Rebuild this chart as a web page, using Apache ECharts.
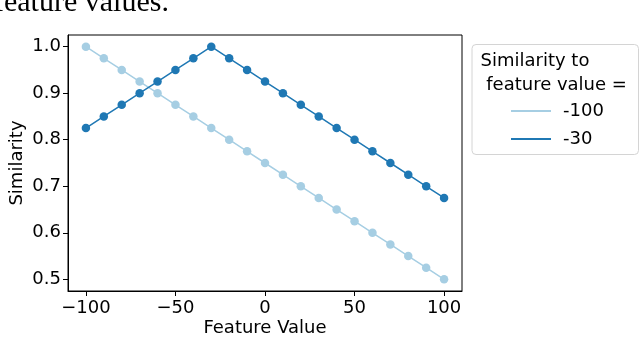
<!DOCTYPE html>
<html>
<head>
<meta charset="utf-8">
<script src="https://cdn.jsdelivr.net/npm/echarts@6/dist/echarts.min.js"></script>
<style>html,body{margin:0;padding:0;background:#fff}#c{width:640px;height:337px}</style>
</head>
<body>
<div id="c"></div>
<script>
const featureValues = [-100,-90,-80,-70,-60,-50,-40,-30,-20,-10,0,10,20,30,40,50,60,70,80,90,100];
const simTo100 = [1.0,0.975,0.95,0.925,0.9,0.875,0.85,0.825,0.8,0.775,0.75,0.725,0.7,0.675,0.65,0.625,0.6,0.575,0.55,0.525,0.5];
const simTo30 = [0.825,0.85,0.875,0.9,0.925,0.95,0.975,1.0,0.975,0.95,0.925,0.9,0.875,0.85,0.825,0.8,0.775,0.75,0.725,0.7,0.675];
const seriesNames = ['-100','-30'];
const xTicks = [-100,-50,0,50,100];
const yTicks = [0.5,0.6,0.7,0.8,0.9,1.0];
const legendTitle = ['Similarity to', ' feature value ='];
const headerText = 'feature values.';

const FONT = 'DejaVu Sans';
const FS = 18;
const pairs = (ys) => featureValues.map((x,i)=>[x, ys[i]]);
const chart = echarts.init(document.getElementById('c'), null, {renderer:'canvas'});
chart.setOption({
  animation:false,
  backgroundColor:'#fff',
  textStyle:{fontFamily:FONT},
  grid:{left:68,right:178,top:35,bottom:46,containLabel:false,outerBoundsMode:'none',
    show:true,borderColor:'#000',borderWidth:1,backgroundColor:'transparent'},
  xAxis:{type:'value',min:-110,max:110,
    name:'Feature Value',nameLocation:'middle',nameGap:28,nameMoveOverlap:false,
    nameTextStyle:{fontSize:FS,color:'#000',fontFamily:FONT},
    axisLine:{show:true,onZero:false,lineStyle:{color:'#000',width:1}},
    axisTick:{show:true,length:5,lineStyle:{color:'#000'},customValues:xTicks},
    axisLabel:{fontSize:FS,color:'#000',fontFamily:FONT,margin:8,customValues:xTicks,formatter:v=>String(v).replace('-','\u2212')},
    splitLine:{show:false}},
  yAxis:{type:'value',min:0.475,max:1.025,
    name:'Similarity',nameLocation:'middle',nameGap:42,nameRotate:90,nameMoveOverlap:false,
    nameTextStyle:{fontSize:FS,color:'#000',fontFamily:FONT},
    axisLine:{show:true,onZero:false,lineStyle:{color:'#000',width:1}},
    axisTick:{show:true,length:5,lineStyle:{color:'#000'},customValues:yTicks},
    axisLabel:{fontSize:FS,color:'#000',fontFamily:FONT,margin:7,customValues:yTicks,formatter:v=>v.toFixed(1)},
    splitLine:{show:false}},
  legend:{orient:'vertical',left:506,top:97,itemWidth:40,itemHeight:2,itemGap:10,
    icon:'rect',textStyle:{fontSize:FS,color:'#000',fontFamily:FONT,padding:[0,0,0,7]},
    data:seriesNames},
  graphic:[
    {type:'rect',shape:{x:472,y:44.5,width:166.5,height:110,r:4},style:{fill:'#fff',stroke:'#d4d4d4',lineWidth:1},z:0},
    {type:'text',x:480.5,y:61,style:{text:legendTitle[0],font:FS+'px "DejaVu Sans"',fill:'#000',verticalAlign:'middle'},z:5},
    {type:'text',x:480.5,y:85,style:{text:legendTitle[1],font:FS+'px "DejaVu Sans"',fill:'#000',verticalAlign:'middle'},z:5},
    {type:'text',x:-6,y:3,style:{text:headerText,font:'30px "Liberation Serif"',fill:'#000',verticalAlign:'middle'},z:5}
  ],
  series:[
    {name:seriesNames[0],type:'line',data:pairs(simTo100),symbol:'circle',symbolSize:8.5,
      itemStyle:{color:'#a6cee3'},lineStyle:{color:'#a6cee3',width:1.5}},
    {name:seriesNames[1],type:'line',data:pairs(simTo30),symbol:'circle',symbolSize:8.5,
      itemStyle:{color:'#1f78b4'},lineStyle:{color:'#1f78b4',width:1.5}}
  ]
});
</script>
</body>
</html>
